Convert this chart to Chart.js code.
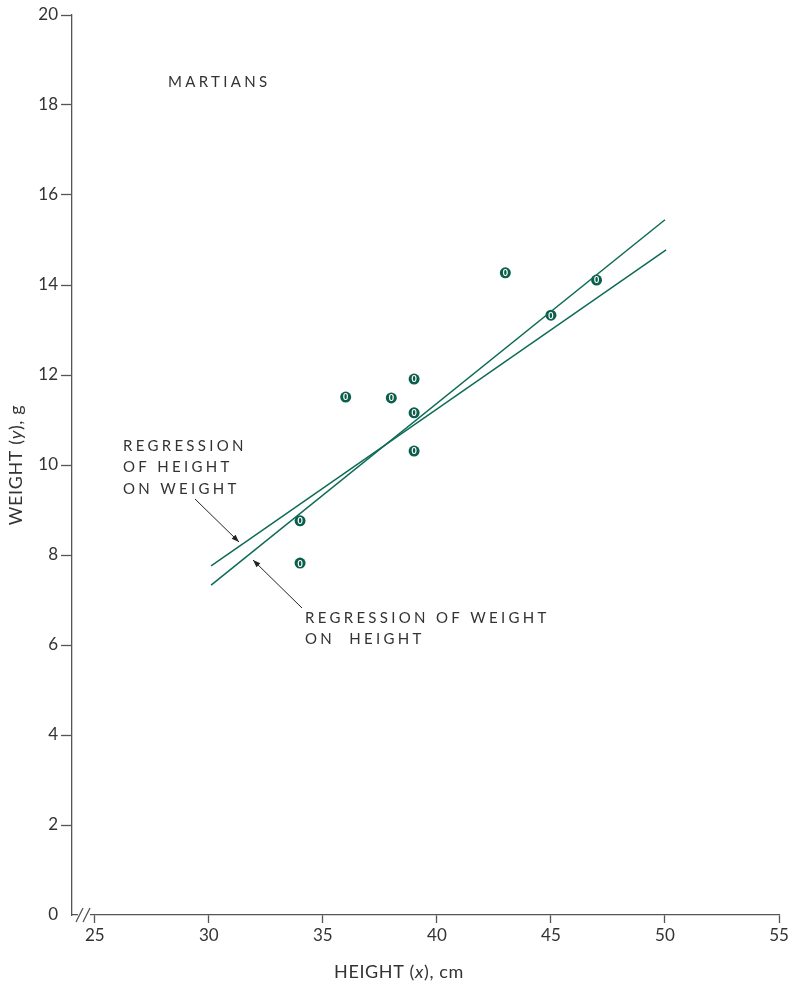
<!DOCTYPE html>
<html>
<head>
<meta charset="utf-8">
<script src="https://cdn.jsdelivr.net/npm/chart.js@4"></script>
<style>
  body { margin: 0; background: #fff; }
  #wrap { width: 793px; height: 987px; position: relative; }
</style>
</head>
<body>
<div id="wrap"><canvas id="chart"></canvas></div>
<script>
// data
const heights = [34, 34, 36, 38, 39, 39, 39, 43, 45, 47];
const weights = [7.82, 8.76, 11.51, 11.49, 11.91, 11.16, 10.31, 14.27, 13.33, 14.11];

// regression lines (end points)
const weightOnHeightX = [30.1, 50];
const weightOnHeightY = [7.33, 15.45];
const heightOnWeightX = [30.1, 50.05];
const heightOnWeightY = [7.76, 14.78];

const xTicks = [25, 30, 35, 40, 45, 50, 55];
const yTicks = [0, 2, 4, 6, 8, 10, 12, 14, 16, 18, 20];

const green = '#0d6b56';
const dotGreen = '#0a5e4b';
const textColor = '#333';
const font = "Lato, 'Open Sans', sans-serif";

function toPoints(xs, ys) {
    return xs.map(function (x, i) { return { x: x, y: ys[i] }; });
}

const extras = {
    id: 'extras',
    afterDatasetsDraw(chart) {
        const ctx = chart.ctx;
        // white 0 in each marker
        const meta = chart.getDatasetMeta(2);
        ctx.save();
        ctx.fillStyle = '#fff';
        ctx.font = 'bold 9px ' + font;
        ctx.textAlign = 'center';
        ctx.textBaseline = 'middle';
        meta.data.forEach(function (p) {
            ctx.fillText('0', p.x, p.y + 0.5);
        });
        ctx.restore();
    },
    afterDraw(chart) {
        const ctx = chart.ctx;
        const area = chart.chartArea;
        ctx.save();

        // axis break
        ctx.fillStyle = '#fff';
        ctx.fillRect(78, area.bottom - 3, 12, 6);
        ctx.strokeStyle = '#555';
        ctx.lineWidth = 1.3;
        ctx.beginPath();
        ctx.moveTo(76, area.bottom + 7); ctx.lineTo(83, area.bottom - 7);
        ctx.moveTo(83, area.bottom + 7); ctx.lineTo(90, area.bottom - 7);
        ctx.stroke();

        // annotations
        ctx.fillStyle = textColor;
        ctx.font = '15px ' + font;
        ctx.textBaseline = 'middle';
        ctx.textAlign = 'left';
        ctx.letterSpacing = '3.3px';
        ctx.fillText('MARTIANS', 168, 82);
        ctx.fillText('REGRESSION', 123, 446);
        ctx.fillText('OF HEIGHT', 123, 467);
        ctx.fillText('ON WEIGHT', 123, 489);
        ctx.fillText('REGRESSION OF WEIGHT', 305, 618);
        ctx.fillText('ON  HEIGHT', 305, 639);
        ctx.letterSpacing = '0.6px';

        // arrows
        function arrow(x1, y1, x2, y2) {
            const a = Math.atan2(y2 - y1, x2 - x1);
            ctx.strokeStyle = '#222';
            ctx.fillStyle = '#222';
            ctx.lineWidth = 1;
            ctx.beginPath();
            ctx.moveTo(x1, y1);
            ctx.lineTo(x2, y2);
            ctx.stroke();
            ctx.beginPath();
            ctx.moveTo(x2, y2);
            ctx.lineTo(x2 - 8 * Math.cos(a - 0.35), y2 - 8 * Math.sin(a - 0.35));
            ctx.lineTo(x2 - 8 * Math.cos(a + 0.35), y2 - 8 * Math.sin(a + 0.35));
            ctx.closePath();
            ctx.fill();
        }
        arrow(195, 499, 239, 542);
        arrow(302, 608, 253, 560);

        // axis titles
        const size = '18px ';
        ctx.fillStyle = textColor;
        ctx.textAlign = 'left';
        const tParts = [['HEIGHT (', ''], ['x', 'italic '], ['), cm', '']];
        let w = 0;
        tParts.forEach(function (p) { ctx.font = p[1] + size + font; w += ctx.measureText(p[0]).width; });
        let tx = 399 - w / 2;
        tParts.forEach(function (p) {
            ctx.font = p[1] + size + font;
            ctx.fillText(p[0], tx, 972);
            tx += ctx.measureText(p[0]).width;
        });

        ctx.translate(16, 465);
        ctx.rotate(-Math.PI / 2);
        const yParts = [['WEIGHT (', ''], ['y', 'italic '], ['), g', '']];
        w = 0;
        yParts.forEach(function (p) { ctx.font = p[1] + size + font; w += ctx.measureText(p[0]).width; });
        tx = -w / 2;
        yParts.forEach(function (p) {
            ctx.font = p[1] + size + font;
            ctx.fillText(p[0], tx, 0);
            tx += ctx.measureText(p[0]).width;
        });
        ctx.restore();
    }
};

new Chart(document.getElementById('chart'), {
    type: 'scatter',
    data: {
        datasets: [
            {
                label: 'Regression of weight on height',
                type: 'line',
                data: toPoints(weightOnHeightX, weightOnHeightY),
                borderColor: green,
                borderWidth: 1.5,
                pointRadius: 0,
                fill: false
            },
            {
                label: 'Regression of height on weight',
                type: 'line',
                data: toPoints(heightOnWeightX, heightOnWeightY),
                borderColor: green,
                borderWidth: 1.5,
                pointRadius: 0,
                fill: false
            },
            {
                label: 'Martians',
                data: toPoints(heights, weights),
                backgroundColor: dotGreen,
                borderColor: dotGreen,
                borderWidth: 0,
                pointRadius: 5.5
            }
        ]
    },
    options: {
        responsive: true,
        maintainAspectRatio: false,
        animation: false,
        layout: { padding: { left: 0, top: 15, right: 14, bottom: 0 } },
        plugins: {
            legend: { display: false },
            tooltip: { enabled: false }
        },
        scales: {
            x: {
                type: 'linear',
                min: 24,
                max: 55,
                afterBuildTicks: function (s) { s.ticks = xTicks.map(function (v) { return { value: v }; }); },
                afterFit: function (s) { s.height = 72; },
                grid: { drawOnChartArea: false, drawTicks: true, tickLength: 8, tickColor: '#555', tickWidth: 1.3 },
                border: { display: true, color: '#555', width: 1.3 },
                ticks: { color: textColor, padding: 2, font: { family: font, size: 17 }, maxRotation: 0 }
            },
            y: {
                type: 'linear',
                min: 0,
                max: 20,
                afterBuildTicks: function (s) { s.ticks = yTicks.map(function (v) { return { value: v }; }); },
                afterFit: function (s) { s.width = 72; },
                grid: {
                    drawOnChartArea: false,
                    drawTicks: true,
                    tickLength: 11,
                    tickColor: function (c) { return c.tick && c.tick.value === 0 ? 'rgba(0,0,0,0)' : '#555'; },
                    tickWidth: 1.3
                },
                border: { display: true, color: '#555', width: 1.3 },
                ticks: { color: textColor, padding: 3, font: { family: font, size: 17 } }
            }
        }
    },
    plugins: [extras]
});
</script>
</body>
</html>
